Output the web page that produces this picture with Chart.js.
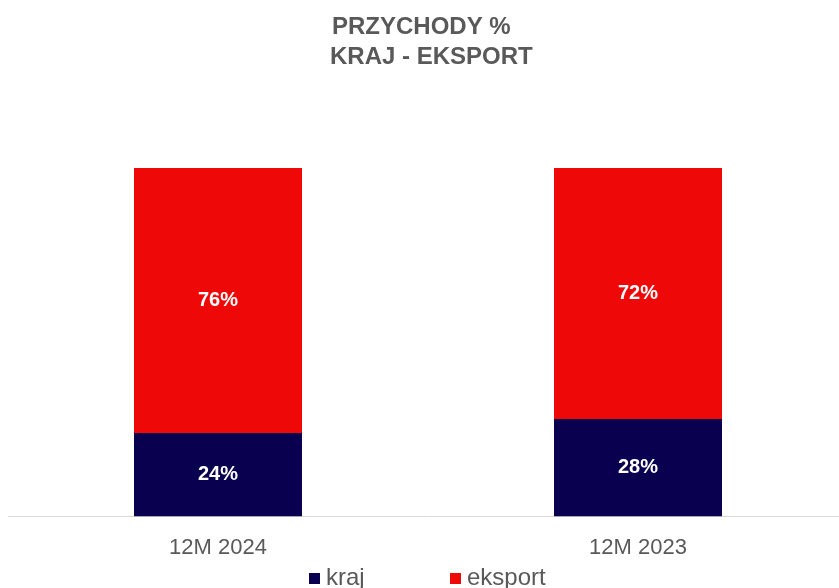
<!DOCTYPE html>
<html>
<head>
<meta charset="utf-8">
<script src="https://cdn.jsdelivr.net/npm/chart.js@4"></script>
<style>
    html, body { margin: 0; padding: 0; background: #fff; }
    .marco { position: relative; width: 839px; height: 588px; overflow: hidden; }
    .lienzo { position: absolute; left: 0; top: 0; width: 850px; height: 588px; }
    .leyenda { position: absolute; top: 562px; left: 0; height: 30px; font: 24px "Liberation Sans", Arial, sans-serif; color: #595959; }
    .leyenda span { position: absolute; white-space: nowrap; line-height: 30px; }
    .leyenda i { display: inline-block; width: 11px; height: 11px; margin-right: 6px; vertical-align: 1px; }
</style>
</head>
<body>
<div class="marco">
    <div class="lienzo"><canvas id="grafica" width="850" height="588"></canvas></div>
    <div class="leyenda"></div>
</div>
<script>
const periodos = ["12M 2024", "12M 2023"]
const kraj = [24, 28]
const eksport = [76, 72]
const series = ["kraj", "eksport"]
const colores = ["#0a0050", "#ee0808"]
const titulo = ["PRZYCHODY %  ", " KRAJ - EKSPORT"]

// Etiquetas de porcentaje en el centro de cada tramo
const etiquetas = {
    id: "etiquetas",
    afterDatasetsDraw(chart) {
        const ctx = chart.ctx
        ctx.save()
        ctx.font = "bold 20px 'Liberation Sans', Arial, sans-serif"
        ctx.fillStyle = "#ffffff"
        ctx.textAlign = "center"
        ctx.textBaseline = "middle"
        chart.data.datasets.forEach((ds, i) => {
            chart.getDatasetMeta(i).data.forEach((barra, j) => {
                ctx.fillText(ds.data[j] + "%", barra.x, (barra.y + barra.base) / 2)
            })
        })
        ctx.restore()
    }
}

// Leyenda en HTML
const leyenda = document.querySelector(".leyenda")
const posiciones = [309, 450]
series.forEach((nombre, i) => {
    const item = document.createElement("span")
    item.style.left = posiciones[i] + "px"
    item.innerHTML = '<i style="background:' + colores[i] + '"></i>' + nombre
    leyenda.append(item)
})

const ctx = document.getElementById("grafica")
new Chart(ctx, {
    type: "bar",
    data: {
        labels: periodos,
        datasets: [{
            label: series[0],
            data: kraj,
            backgroundColor: colores[0],
        },
        {
            label: series[1],
            data: eksport,
            backgroundColor: colores[1],
        }]
    },
    options: {
        responsive: false,
        animation: false,
        layout: { padding: { left: 8, right: 2, top: 0, bottom: 9 } },
        datasets: { bar: { barPercentage: 1, categoryPercentage: 0.4 } },
        scales: {
            x: {
                stacked: true,
                grid: { display: false, drawTicks: false },
                border: { display: true, color: "#d9d9d9", width: 1 },
                ticks: {
                    padding: 18,
                    color: "#595959",
                    font: { family: "'Liberation Sans', Arial, sans-serif", size: 22 }
                }
            },
            y: {
                stacked: true,
                display: false,
                min: 0,
                max: 100
            }
        },
        plugins: {
            legend: { display: false },
            tooltip: { enabled: false },
            title: {
                display: true,
                text: titulo,
                color: "#595959",
                font: { family: "'Liberation Sans', Arial, sans-serif", size: 24, weight: "bold", lineHeight: 1.25 },
                padding: { top: 12, bottom: 96 }
            }
        }
    },
    plugins: [etiquetas]
})
</script>
</body>
</html>
